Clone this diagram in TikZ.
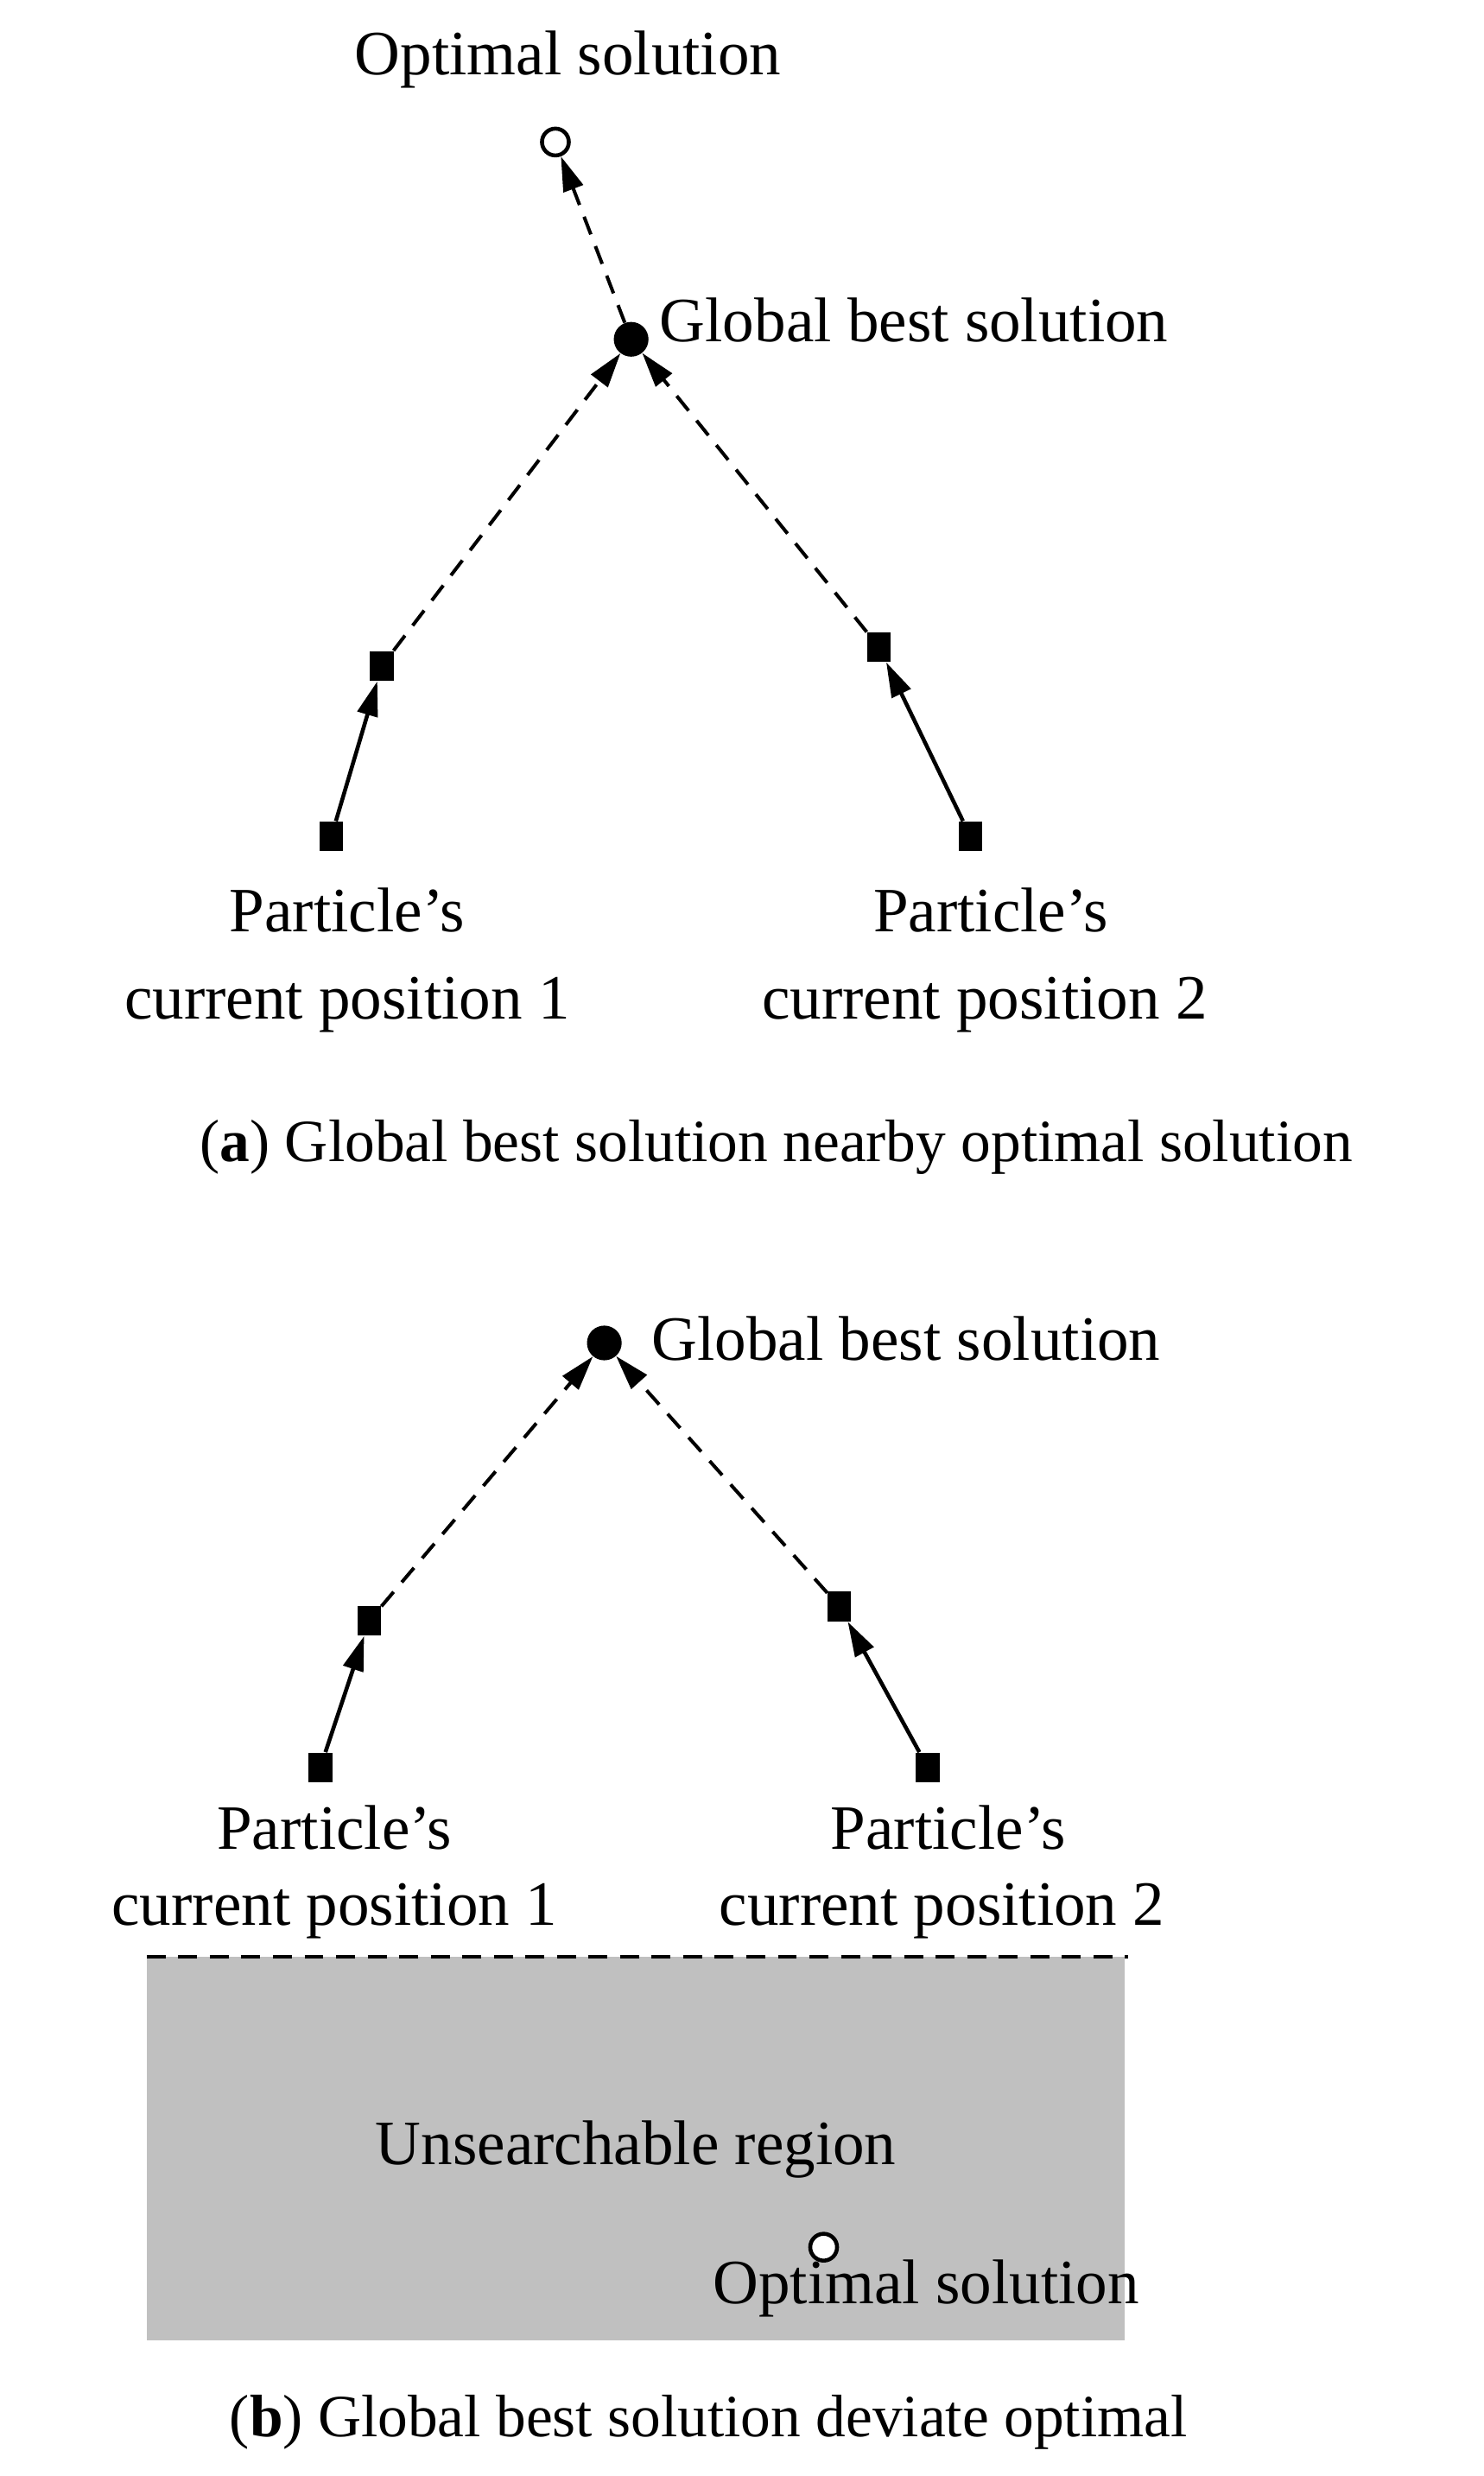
\documentclass[tikz,border=0pt]{standalone}
\usepackage{fontspec}
\setmainfont{Liberation Serif}
\usetikzlibrary{arrows.meta}
\begin{document}
\begin{tikzpicture}[x=1pt,y=-1pt,
  lbl/.style={font=\fontsize{40}{46}\selectfont,inner sep=0pt},
  captxt/.style={font=\fontsize{38}{44}\selectfont,inner sep=0pt},
  sq/.style={fill=black,minimum width=15pt,minimum height=19pt,inner sep=0pt},
  bdot/.style={fill=black,circle,minimum size=22pt,inner sep=0pt},
  odot/.style={draw,line width=2.5pt,fill=white,circle,minimum size=17pt,inner sep=0pt},
  tip/.style={-{Triangle[length=22pt,width=13pt]}},
  dsh/.style={tip,line width=2.2pt,dash pattern=on 12pt off 8pt},
  sol/.style={tip,line width=2.5pt}]
\useasboundingbox (0,0) rectangle (940,1569);
\fill[white] (0,0) rectangle (940,1569);
% panel a
\node[lbl] (ta) at (360,38) {Optimal solution};
\node[odot] (oa) at (352,90) {};
\node[bdot] (ga) at (400,215) {};
\node[lbl,anchor=west] (tga) at (418,203) {Global best solution};
\node[sq] (l1) at (242,422) {};
\node[sq] (r1) at (557,410) {};
\node[sq] (l0) at (210,530) {};
\node[sq] (r0) at (615,530) {};
\draw[dsh] (ga) -- (oa);
\draw[dsh] (l1) -- (ga);
\draw[dsh] (r1) -- (ga);
\draw[sol] (l0) -- (l1);
\draw[sol] (r0) -- (r1);
\node[lbl] (pa1) at (220,577) {Particle’s};
\node[lbl] (ca1) at (220,637) {current position 1};
\node[lbl] (pa2) at (628,577) {Particle’s};
\node[lbl] (ca2) at (624,637) {current position 2};
\node[captxt] (capa) at (492,727) {(\textbf{a}) Global best solution nearby optimal solution};
% panel b
\fill[fill={rgb,255:red,192;green,192;blue,192}] (93,1240) rectangle (713,1483);
\draw[line width=2.2pt,dash pattern=on 12pt off 8pt] (93,1240) -- (715,1240);
\node[bdot] (gb) at (383,851) {};
\node[lbl,anchor=west] (tgb) at (413,848) {Global best solution};
\node[sq] (l1b) at (234,1027) {};
\node[sq] (r1b) at (532,1018) {};
\node[sq] (l0b) at (203,1120) {};
\node[sq] (r0b) at (588,1120) {};
\draw[dsh] (l1b) -- (gb);
\draw[dsh] (r1b) -- (gb);
\draw[sol] (l0b) -- (l1b);
\draw[sol] (r0b) -- (r1b);
\node[lbl] (pb1) at (212,1158) {Particle’s};
\node[lbl] (cb1) at (212,1211) {current position 1};
\node[lbl] (pb2) at (601,1158) {Particle’s};
\node[lbl] (cb2) at (597,1211) {current position 2};
\node[lbl] (ur) at (403,1362) {Unsearchable region};
\node[odot] (ob) at (522,1424) {};
\node[lbl] (tob) at (587,1450) {Optimal solution};
\node[captxt] (capb) at (449,1535) {(\textbf{b}) Global best solution deviate optimal};
\end{tikzpicture}
\end{document}
